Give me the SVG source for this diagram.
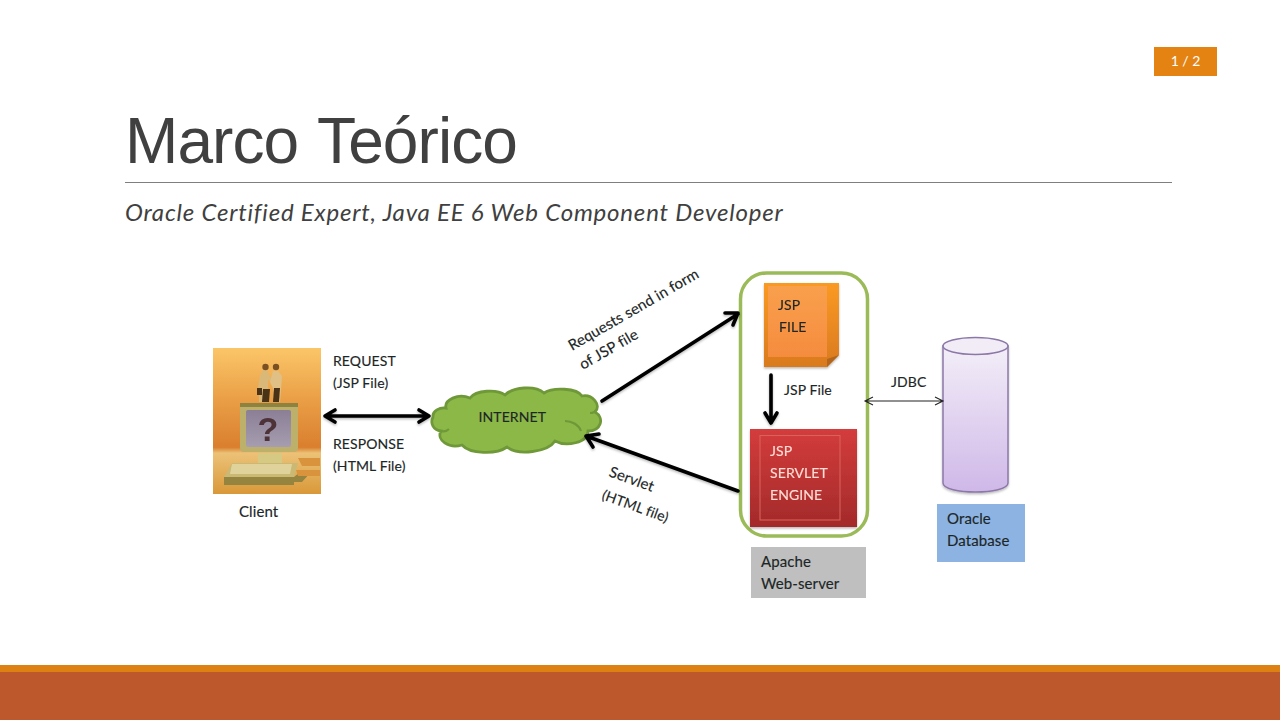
<svg xmlns="http://www.w3.org/2000/svg" width="1280" height="720" viewBox="0 0 1280 720">
<style>
.d{font-family:Lato,"Open Sans","Liberation Sans",sans-serif;font-size:14px;fill:#1c2626;stroke:#1c2626;stroke-width:.15px;letter-spacing:.1px}
.l{font-size:15px}
.w{fill:#ffdcd4;stroke:#ffdcd4}
.a{fill:none;stroke:#000;stroke-width:3.6;stroke-linecap:round;stroke-linejoin:round}
.t{fill:none;stroke:#222;stroke-width:1.1}
</style>
<defs>
<filter id="sh" x="-10%" y="-10%" width="120%" height="120%"><feDropShadow dx="0" dy="1.500" stdDeviation="1.200" flood-color="#000" flood-opacity=".28"/></filter>
<filter id="soft" x="-5%" y="-5%" width="110%" height="110%"><feGaussianBlur stdDeviation=".6"/></filter>
<linearGradient id="bg" x1="0" y1="0" x2="0" y2="1"><stop offset="0" stop-color="#fbc668"/><stop offset=".35" stop-color="#ea9f46"/><stop offset=".68" stop-color="#d97f2e"/><stop offset=".72" stop-color="#ecc278"/><stop offset="1" stop-color="#d99838"/></linearGradient>
<linearGradient id="org" x1="0" y1="0" x2="0" y2="1"><stop offset="0" stop-color="#f9a04d"/><stop offset="1" stop-color="#f58c3e"/></linearGradient>
<linearGradient id="org2" x1="0" y1="0" x2="0" y2="1"><stop offset="0" stop-color="#fb9a22"/><stop offset="1" stop-color="#d97a1f"/></linearGradient>
<linearGradient id="red" x1="0" y1="0" x2="0" y2="1"><stop offset="0" stop-color="#d43c3c"/><stop offset="1" stop-color="#a32a2a"/></linearGradient>
<linearGradient id="cyl" x1="0" y1="0" x2="0" y2="1"><stop offset="0" stop-color="#f3eef8"/><stop offset="1" stop-color="#cfb8e8"/></linearGradient>
<linearGradient id="scr" x1="0" y1="0" x2="0" y2="1"><stop offset="0" stop-color="#8a7f95"/><stop offset="1" stop-color="#a79db0"/></linearGradient>
</defs>
<rect width="1280" height="720" fill="#fff"/>
<g id="badge"><rect x="1154" y="47" width="63" height="29" fill="#e48312"/><text x="1185.500" y="66" text-anchor="middle" font-family="Lato,'Open Sans',sans-serif" font-size="14" fill="#fff">1 / 2</text></g>
<g id="title"><text x="125" y="163" font-family="'Liberation Sans',Arial,sans-serif" font-size="64" letter-spacing="-.9" word-spacing="3" fill="#404040">Marco Teórico</text>
<line x1="125" y1="182.500" x2="1172" y2="182.500" stroke="#7f7f7f" stroke-width="1"/>
<text x="125" y="221" font-family="Lato,'Open Sans',sans-serif" font-style="italic" font-size="24" letter-spacing=".8" fill="#404040">Oracle Certified Expert, Java EE 6 Web Component Developer</text></g>
<g id="footer"><rect y="665" width="1280" height="7" fill="#dd8212"/><rect y="672" width="1280" height="48" fill="#bd582c"/></g>
<g id="client">
<rect x="213" y="348" width="108" height="146" fill="url(#bg)"/>
<g filter="url(#soft)">
<path d="M260 376l3-6h4l3 7 10 3-7 1-5-1 0 11-1 11h-8l0-12-1-3z" fill="#d9b878"/><path d="M263 389h7l-1 13h-7z" fill="#4a3216"/>
<path d="M273 371h5l4 5-1 14-1 12h-6l-1-14-3-6z" fill="#e0c084"/><path d="M274 388h6l-1 14h-6z" fill="#4a3216"/>
<circle cx="265.500" cy="367" r="3.200" fill="#7a5022"/><circle cx="276" cy="367" r="3.200" fill="#7a5022"/>
<rect x="257" y="388" width="5" height="7" fill="#4a3216"/>
<rect x="240" y="403" width="58" height="49" rx="4" fill="#bdb06a"/><rect x="240" y="403" width="58" height="4" fill="#8e8240"/>
<rect x="246" y="410" width="45" height="37" rx="2" fill="url(#scr)"/>
<text x="268" y="441" text-anchor="middle" font-family="'Liberation Sans',sans-serif" font-weight="bold" font-size="34" fill="#4d3038">?</text>
<path d="M258 453h24v10h-24z" fill="#d6c983"/>
<path d="M232 463h66l-4 14h-70z" fill="#c9b974"/><path d="M232 464h60l-2 10h-60z" fill="#e6dca8" opacity=".75"/>
<path d="M224 477h70l6-5h11l-9 10h-8v3h-70z" fill="#94843f"/>
<path d="M298 458h22v8h-18zM296 470h24v6h-22z" fill="#d9933e"/>
</g>
<text x="239" y="517" class="d l">Client</text>
</g>
<g id="internet">
<path d="M433 417C432 411 440 407 446 408C444 400 458 393 470 398C476 390 497 389 505 395C513 387 535 385 544 393C553 387 577 388 582 396C592 394 602 405 595 412C605 418 601 431 588 431C588 443 566 447 555 441C548 452 518 456 507 447C496 455 470 454 462 445C449 449 436 440 441 431C433 430 430 423 433 417Z" fill="#8cb848" stroke="#6f9838" stroke-width="2.800"/>
<path d="M441 431C444 432 447 431 449 429M565 421C572 421 579 425 581 431M590 413C593 413 595 412 596 410" fill="none" stroke="#6f9838" stroke-width="2.200"/>
<text x="478.500" y="422" class="d">INTERNET</text>
</g>
<g id="apache"><rect x="740.500" y="273" width="127" height="263" rx="26" fill="none" stroke="#9bbb59" stroke-width="3.500"/>
<rect x="751" y="547" width="115" height="51" fill="#bfbfbf"/><text x="761" y="567" class="d l">Apache</text><text x="761" y="589" class="d l">Web-server</text></g>
<g id="jsp-file" filter="url(#sh)"><path d="M764 283h75v72l-12 12h-63z" fill="url(#org2)"/><path d="M827 367v-8l12-4z" fill="#b3651b"/><path d="M768 286h59v71h-59z" fill="url(#org)"/><text x="778" y="310" class="d">JSP</text><text x="779" y="332" class="d">FILE</text></g>
<g id="servlet-engine" filter="url(#sh)"><rect x="750" y="429" width="107" height="98" fill="url(#red)"/><rect x="760" y="435.500" width="80" height="84.500" fill="none" stroke="#d9645c" stroke-width="1"/><text x="770" y="456" class="d w">JSP</text><text x="770" y="478" class="d w">SERVLET</text><text x="770" y="500" class="d w">ENGINE</text></g>
<g id="database"><path d="M943 346v137c0 12 65 12 65 0V346z" fill="url(#cyl)" stroke="#8c78a8" stroke-width="1.500" filter="url(#sh)"/><ellipse cx="975.500" cy="346" rx="32.500" ry="8.500" fill="#f1ecf6" stroke="#8c78a8" stroke-width="1.500"/>
<rect x="937" y="504" width="88" height="58" fill="#8db3e2"/><text x="947" y="524" class="d l">Oracle</text><text x="947" y="546" class="d l">Database</text></g>
<g id="connectors">
<g filter="url(#sh)">
<path class="a" d="M325 416H429M335 410l-10 6 10 6M419 410l10 6-10 6"/>
<path class="a" d="M602 401L738 314M725 313h13l-5 12"/>
<path class="a" d="M738 491L586 436M599 434l-13 2 7 11"/>
<path class="a" d="M771 375V423M765 413l6 10 6-10"/>
</g>
<path class="t" d="M865 401H943M873 397l-8 4 8 4M935 397l8 4-8 4"/>
</g>
<g id="labels">
<text x="333" y="366" class="d">REQUEST</text><text x="333" y="388" class="d">(JSP File)</text>
<text x="333" y="449" class="d">RESPONSE</text><text x="333" y="471" class="d">(HTML File)</text>
<text x="784" y="395" class="d">JSP File</text><text x="891" y="387" class="d">JDBC</text>
<text transform="translate(572 351) rotate(-30)" class="d l">Requests send in form</text>
<text transform="translate(583 370) rotate(-30)" class="d l">of JSP file</text>
<text transform="translate(608 476) rotate(20)" class="d l">Servlet</text>
<text transform="translate(601 499) rotate(20)" class="d">(HTML file)</text>
</g>
</svg>
